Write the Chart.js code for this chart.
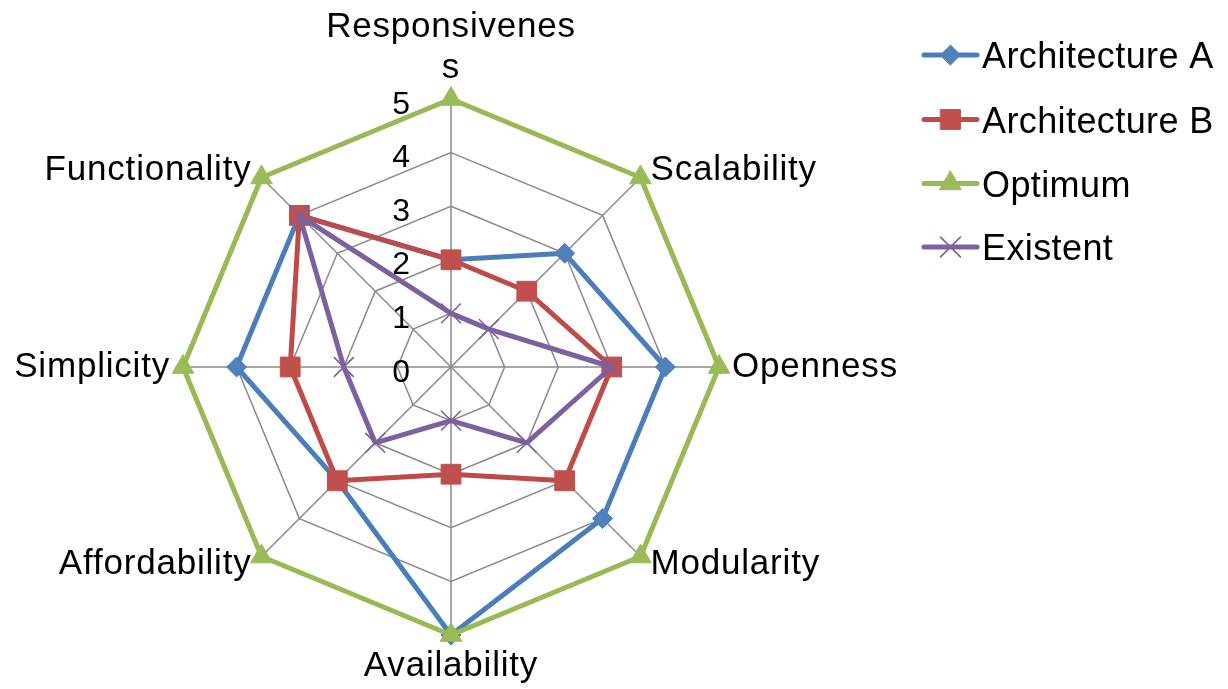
<!DOCTYPE html>
<html>
<head>
<meta charset="utf-8">
<title>Architecture comparison</title>
<script src="https://cdn.jsdelivr.net/npm/chart.js@4/dist/chart.umd.min.js"></script>
<style>
  html, body { margin: 0; padding: 0; background: #ffffff; }
  #wrap { position: relative; width: 1228px; height: 689px; }
</style>
</head>
<body>
<div id="wrap"><canvas id="radar"></canvas></div>
<script>
// Criteria around the radar (first one sits at the top, then clockwise)
const criteria = [
  ['Responsivenes', 's'],
  'Scalability',
  'Openness',
  'Modularity',
  'Availability',
  'Affordability',
  'Simplicity',
  'Functionality'
];

// Scores per criterion, 0..5
const architectureA = [2, 3, 4, 4, 5, 3, 4, 4];
const architectureB = [2, 2, 3, 3, 2, 3, 3, 4];
const optimum       = [5, 5, 5, 5, 5, 5, 5, 5];
const existent      = [1, 1, 3, 2, 1, 2, 2, 4];

// Scale tick labels
const tickValues = [0, 1, 2, 3, 4, 5];

const FONT = '"Liberation Sans", Arial, sans-serif';

const series = [
  { label: 'Architecture A', data: architectureA, line: '#4A7EBB', fill: '#4F81BD', style: 'rectRot', radius: 10, bw: 1, order: 4 },
  { label: 'Architecture B', data: architectureB, line: '#BE4B48', fill: '#C0504D', style: 'rect',    radius: 14, bw: 1, order: 3 },
  { label: 'Optimum',        data: optimum,       line: '#98B954', fill: '#9BBB59', style: 'triangle', radius: 12.5, bw: 1, order: 2 },
  { label: 'Existent',       data: existent,      line: '#7D60A0', fill: '#7D60A0', style: 'crossRot', radius: 14, bw: 1.6, order: 1 }
];

function setSpacing(ctx, px) {
  if ('letterSpacing' in ctx) ctx.letterSpacing = px + 'px';
}

// Scale value labels, drawn left of the vertical axis underneath the series lines
const tickLabelPlugin = {
  id: 'tickLabels',
  beforeDatasetsDraw(chart) {
    const r = chart.scales.r;
    const ctx = chart.ctx;
    ctx.save();
    ctx.font = '32px ' + FONT;
    ctx.fillStyle = '#000000';
    ctx.textAlign = 'right';
    ctx.textBaseline = 'alphabetic';
    tickValues.forEach(v => {
      const y = r.yCenter - r.getDistanceFromCenterForValue(v);
      ctx.fillText(String(v), r.xCenter - 41, y + 14.5);
    });
    ctx.restore();
  }
};

// Category names placed just outside each spoke
const pointLabelPlugin = {
  id: 'spokeLabels',
  afterDatasetsDraw(chart) {
    const r = chart.scales.r;
    const ctx = chart.ctx;
    const outer = r.getDistanceFromCenterForValue(r.max);
    ctx.save();
    ctx.font = '35px ' + FONT;
    setSpacing(ctx, 0.8);
    ctx.fillStyle = '#000000';
    ctx.textBaseline = 'alphabetic';
    criteria.forEach((lbl, i) => {
      const p = r.getPointPosition(i, outer);
      const ux = (p.x - r.xCenter) / outer;
      const uy = (p.y - r.yCenter) / outer;
      const lines = Array.isArray(lbl) ? lbl : [lbl];
      if (Math.abs(ux) < 0.01) {
        ctx.textAlign = 'center';
        if (uy < 0) {
          for (let k = 0; k < lines.length; k++) {
            const base = p.y - 21 - (lines.length - 1 - k) * 41;
            ctx.fillText(lines[k], p.x, base);
          }
        } else {
          lines.forEach((t, k) => ctx.fillText(t, p.x, p.y + 41 + k * 41));
        }
      } else {
        ctx.textAlign = ux > 0 ? 'left' : 'right';
        const gap = Math.abs(uy) < 0.01 ? 13 : 10;
        const x = p.x + (ux > 0 ? gap : -gap);
        const base = p.y + 10 + 10.5 * uy;
        lines.forEach((t, k) => ctx.fillText(t, x, base + k * 41));
      }
    });
    ctx.restore();
  }
};

// Legend on the right: a short line segment with the series marker, then the name
const sideLegendPlugin = {
  id: 'sideLegend',
  afterDraw(chart) {
    const ctx = chart.ctx;
    const rows = [55, 119.5, 183.5, 247];
    ctx.save();
    series.forEach((s, i) => {
      const y = rows[i];
      ctx.strokeStyle = s.line;
      ctx.lineWidth = 5;
      ctx.lineCap = 'round';
      ctx.beginPath();
      ctx.moveTo(924, y);
      ctx.lineTo(977, y);
      ctx.stroke();
      ctx.fillStyle = s.fill;
      ctx.strokeStyle = s.fill;
      ctx.lineWidth = s.bw;
      Chart.helpers.drawPoint(ctx, {
        pointStyle: s.style,
        radius: s.radius,
        rotation: 0,
        borderWidth: s.bw
      }, 950.5, y);
      ctx.fillStyle = '#000000';
      ctx.font = '36px ' + FONT;
      setSpacing(ctx, 0.4);
      ctx.textAlign = 'left';
      ctx.textBaseline = 'alphabetic';
      ctx.fillText(s.label, 982, y + 13);
      setSpacing(ctx, 0);
    });
    ctx.restore();
  }
};

new Chart(document.getElementById('radar'), {
  type: 'radar',
  data: {
    labels: criteria,
    datasets: series.map(s => ({
      label: s.label,
      data: s.data,
      order: s.order,
      fill: false,
      tension: 0,
      borderColor: s.line,
      borderWidth: 5,
      borderJoinStyle: 'round',
      pointStyle: s.style,
      pointRadius: s.radius,
      pointHoverRadius: s.radius,
      pointBackgroundColor: s.fill,
      pointBorderColor: s.fill,
      pointBorderWidth: s.bw
    }))
  },
  options: {
    responsive: true,
    maintainAspectRatio: false,
    animation: false,
    events: [],
    layout: { padding: { left: 183, right: 509, top: 99, bottom: 54 } },
    plugins: {
      legend: { display: false },
      tooltip: { enabled: false }
    },
    scales: {
      r: {
        min: 0,
        max: 5,
        beginAtZero: true,
        ticks: { display: false, stepSize: 1 },
        pointLabels: { display: false },
        grid: { circular: false, color: '#8A8A8A', lineWidth: 1.5 },
        angleLines: { display: true, color: '#8A8A8A', lineWidth: 1.5 }
      }
    }
  },
  plugins: [tickLabelPlugin, pointLabelPlugin, sideLegendPlugin]
});
</script>
</body>
</html>
